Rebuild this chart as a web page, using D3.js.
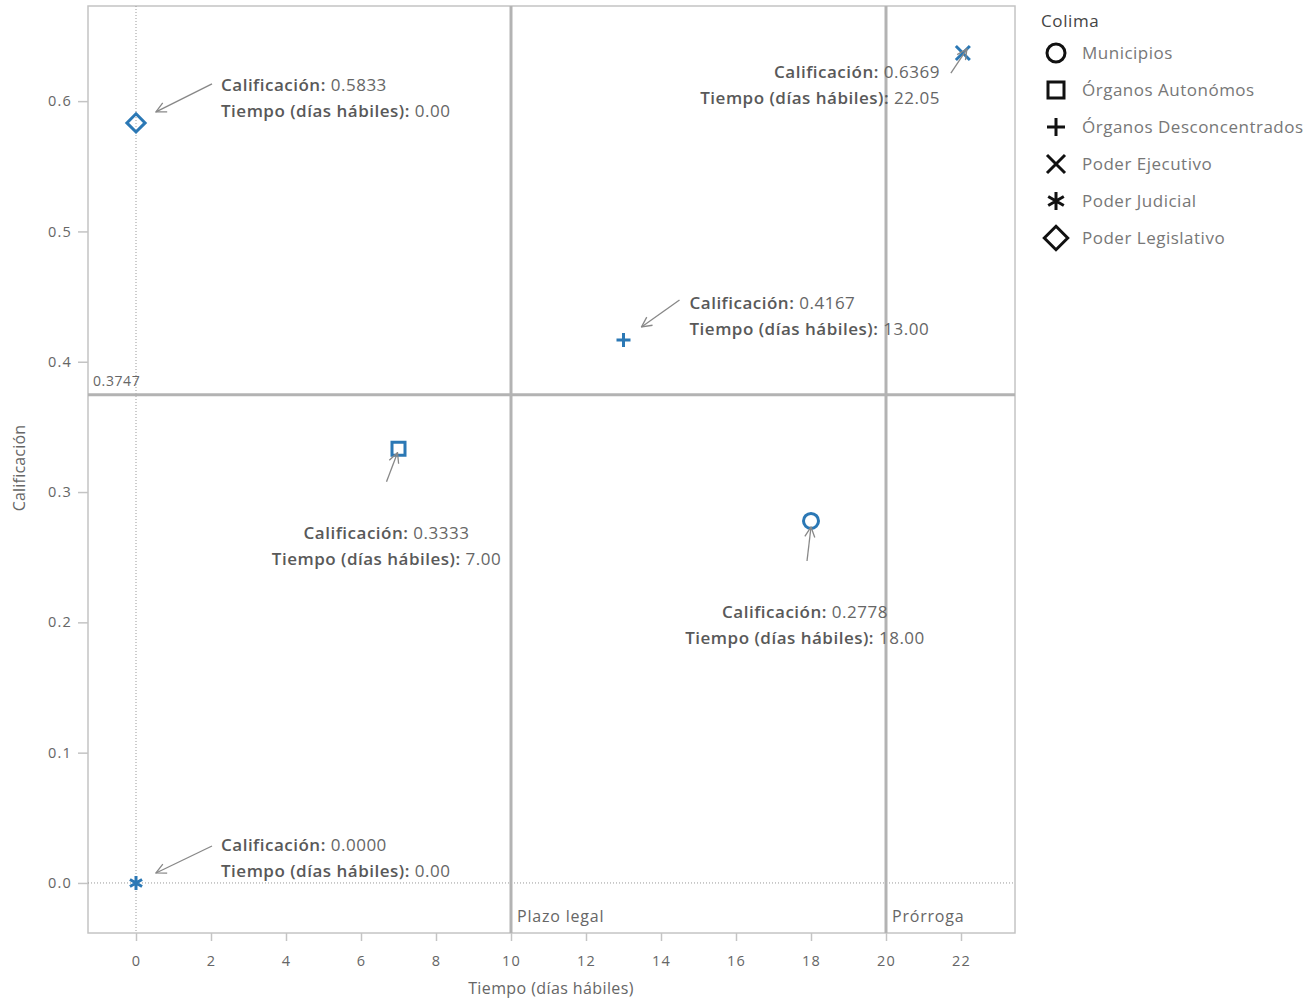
<!DOCTYPE html>
<html>
<head>
<meta charset="utf-8">
<script src="https://cdn.jsdelivr.net/npm/d3@7"></script>
<style>
  body { margin: 0; background: #fff; }
  text { font-family: "Open Sans", "Noto Sans", sans-serif; }
</style>
</head>
<body>
<div id="viz"><svg width="1309" height="1000"></svg></div>
<script>
// data
const categories = ["Municipios", "Órganos Autonómos", "Órganos Desconcentrados", "Poder Ejecutivo", "Poder Judicial", "Poder Legislativo"]
const tiempo = [18.00, 7.00, 13.00, 22.05, 0.00, 0.00]
const calificacion = [0.2778, 0.3333, 0.4167, 0.6369, 0.0000, 0.5833]
const shapes = ["circle", "square", "plus", "cross", "asterisk", "diamond"]
const xTicks = [0, 2, 4, 6, 8, 10, 12, 14, 16, 18, 20, 22]
const yTicks = [0.0, 0.1, 0.2, 0.3, 0.4, 0.5, 0.6]
const refX = [{v: 10, label: "Plazo legal"}, {v: 20, label: "Prórroga"}]
const refY = 0.3747

// annotation placement relative to each point (pixels): arrow start, arrow end, text anchor
const notes = [
    {ax: -4, ay: 40, bx: 0, by: 6, tx: -6, ty: 97, anchor: "middle"},
    {ax: -12, ay: 33, bx: -1, by: 4, tx: -12, ty: 90, anchor: "middle"},
    {ax: 56, ay: -40, bx: 18, by: -13, tx: 66, ty: -31, anchor: "start"},
    {ax: -12, ay: 20, bx: 4, by: -4, tx: -23, ty: 25, anchor: "end"},
    {ax: 76, ay: -37, bx: 20, by: -10, tx: 85, ty: -32, anchor: "start"},
    {ax: 76, ay: -39, bx: 20, by: -11, tx: 85, ty: -32, anchor: "start"}
]

const data = categories.map((c, i) => ({cat: c, x: tiempo[i], y: calificacion[i], shape: shapes[i], note: notes[i]}))

const svg = d3.select("#viz").select("svg")
const mLeft = 88, mRight = 1015, mTop = 6, mBottom = 933

const x = d3.scaleLinear().domain([-1.28, 23.44]).range([mLeft, mRight])
const y = d3.scaleLinear().domain([-0.0384, 0.673]).range([mBottom, mTop])

const gray = "#666"
const blue = "#2b78b5"

function shapePath(s, r) {
    if (s == "circle") return d3.symbol(d3.symbolCircle, Math.PI * r * r)()
    if (s == "square") return `M${-r},${-r}H${r}V${r}H${-r}Z`
    if (s == "diamond") return `M0,${-r * 1.3}L${r * 1.3},0L0,${r * 1.3}L${-r * 1.3},0Z`
    if (s == "plus") return `M${-r},0H${r}M0,${-r}V${r}`
    if (s == "cross") return `M${-r},${-r}L${r},${r}M${r},${-r}L${-r},${r}`
    if (s == "asterisk") {
        let p = `M0,${-r}V${r}`
        let a = r * Math.cos(Math.PI / 6), b = r * Math.sin(Math.PI / 6)
        return p + `M${-a},${-b}L${a},${b}M${a},${-b}L${-a},${b}`
    }
}

// frame
svg.append("rect")
    .attr("x", mLeft).attr("y", mTop)
    .attr("width", mRight - mLeft).attr("height", mBottom - mTop)
    .attr("fill", "none").attr("stroke", "#c4c4c4").attr("stroke-width", 1.5)

// zero lines
svg.append("line")
    .attr("x1", x(0)).attr("x2", x(0)).attr("y1", mTop).attr("y2", mBottom)
    .attr("stroke", "#999").attr("stroke-width", 1).attr("stroke-dasharray", "1,2")
svg.append("line")
    .attr("x1", mLeft).attr("x2", mRight).attr("y1", y(0)).attr("y2", y(0))
    .attr("stroke", "#999").attr("stroke-width", 1).attr("stroke-dasharray", "1,2")

// reference lines
svg.selectAll("line.refx")
    .data(refX)
    .enter()
    .append("line")
    .attr("class", "refx")
    .attr("x1", d => x(d.v)).attr("x2", d => x(d.v))
    .attr("y1", mTop).attr("y2", mBottom)
    .attr("stroke", "#b3b3b3").attr("stroke-width", 3)

svg.selectAll("text.refx")
    .data(refX)
    .enter()
    .append("text")
    .attr("class", "refx")
    .attr("x", d => x(d.v) + 6).attr("y", mBottom - 11)
    .attr("fill", gray).attr("font-size", 16).attr("letter-spacing", 0.8)
    .text(d => d.label)

svg.append("line")
    .attr("x1", mLeft).attr("x2", mRight).attr("y1", y(refY)).attr("y2", y(refY))
    .attr("stroke", "#b3b3b3").attr("stroke-width", 3)
svg.append("text")
    .attr("x", mLeft + 5).attr("y", y(refY) - 9)
    .attr("fill", gray).attr("font-size", 14).attr("letter-spacing", 0.6)
    .text(refY.toFixed(4))

// axes
const xAxis = svg.append("g")
    .attr("transform", "translate(0," + mBottom + ")")
    .call(d3.axisBottom(x).tickValues(xTicks).tickSize(8).tickPadding(15).tickFormat(d3.format("d")))
const yAxis = svg.append("g")
    .attr("transform", "translate(" + mLeft + ",0)")
    .call(d3.axisLeft(y).tickValues(yTicks).tickSize(10).tickPadding(6).tickFormat(d3.format(".1f")))

for (const ax of [xAxis, yAxis]) {
    ax.select(".domain").remove()
    ax.selectAll(".tick line").attr("stroke", "#c4c4c4").attr("stroke-width", 1.5)
    ax.selectAll(".tick text").attr("fill", gray).attr("font-size", 14.5)
        .attr("letter-spacing", 1.2)
        .style("font-family", "'Open Sans', sans-serif")
}

svg.append("text")
    .attr("x", 551).attr("y", 994)
    .attr("text-anchor", "middle").attr("fill", gray).attr("font-size", 16).attr("letter-spacing", 0.4)
    .text("Tiempo (días hábiles)")
svg.append("text")
    .attr("transform", "translate(25," + 468 + ") rotate(-90)")
    .attr("text-anchor", "middle").attr("fill", gray).attr("font-size", 16).attr("letter-spacing", 0.2)
    .text("Calificación")

// arrow marker
svg.append("defs").append("marker")
    .attr("id", "arrow")
    .attr("viewBox", "0 0 12 12")
    .attr("refX", 11).attr("refY", 6)
    .attr("markerWidth", 12).attr("markerHeight", 12)
    .attr("markerUnits", "userSpaceOnUse")
    .attr("orient", "auto")
    .append("path")
    .attr("d", "M1,1L11,6L1,11")
    .attr("fill", "none").attr("stroke", "#888").attr("stroke-width", 1.3)

// points
const pts = svg.selectAll("g.pt")
    .data(data)
    .enter()
    .append("g")
    .attr("class", "pt")
    .attr("transform", d => "translate(" + x(d.x) + "," + y(d.y) + ")")

pts.append("path")
    .attr("d", d => shapePath(d.shape, d.shape == "circle" ? 7.5 : (d.shape == "square" ? 6.5 : 7)))
    .attr("fill", "none")
    .attr("stroke", blue)
    .attr("stroke-width", 3)

pts.append("line")
    .attr("x1", d => d.note.ax).attr("y1", d => d.note.ay)
    .attr("x2", d => d.note.bx).attr("y2", d => d.note.by)
    .attr("stroke", "#888").attr("stroke-width", 1.3)
    .attr("marker-end", "url(#arrow)")

const labels = pts.append("text")
    .attr("text-anchor", d => d.note.anchor)
    .attr("font-size", 17)
    .attr("letter-spacing", 0.5)

labels.append("tspan")
    .attr("x", d => d.note.tx).attr("y", d => d.note.ty)
    .attr("fill", "#595959").attr("font-weight", 600)
    .text("Calificación: ")
    .append("tspan").attr("font-weight", 400).attr("fill", gray)
    .text(d => d.y.toFixed(4))

labels.append("tspan")
    .attr("x", d => d.note.tx).attr("y", d => d.note.ty + 26)
    .attr("fill", "#595959").attr("font-weight", 600)
    .text("Tiempo (días hábiles): ")
    .append("tspan").attr("font-weight", 400).attr("fill", gray)
    .text(d => d.x.toFixed(2))

// legend
const legend = svg.append("g").attr("transform", "translate(1041,0)")
legend.append("text")
    .attr("x", 0).attr("y", 27)
    .attr("fill", "#444").attr("font-size", 17).attr("letter-spacing", 0.6)
    .text("Colima")

const items = legend.selectAll("g.item")
    .data(data)
    .enter()
    .append("g")
    .attr("class", "item")
    .attr("transform", (d, i) => "translate(15," + (53 + i * 37) + ")")

items.append("path")
    .attr("d", d => shapePath(d.shape, d.shape == "circle" ? 9 : (d.shape == "square" ? 8 : 9)))
    .attr("fill", "none").attr("stroke", "#111").attr("stroke-width", 3)

items.append("text")
    .attr("x", 26).attr("y", 6)
    .attr("fill", "#777").attr("font-size", 17).attr("letter-spacing", 0.5)
    .text(d => d.cat)
</script>
</body>
</html>
